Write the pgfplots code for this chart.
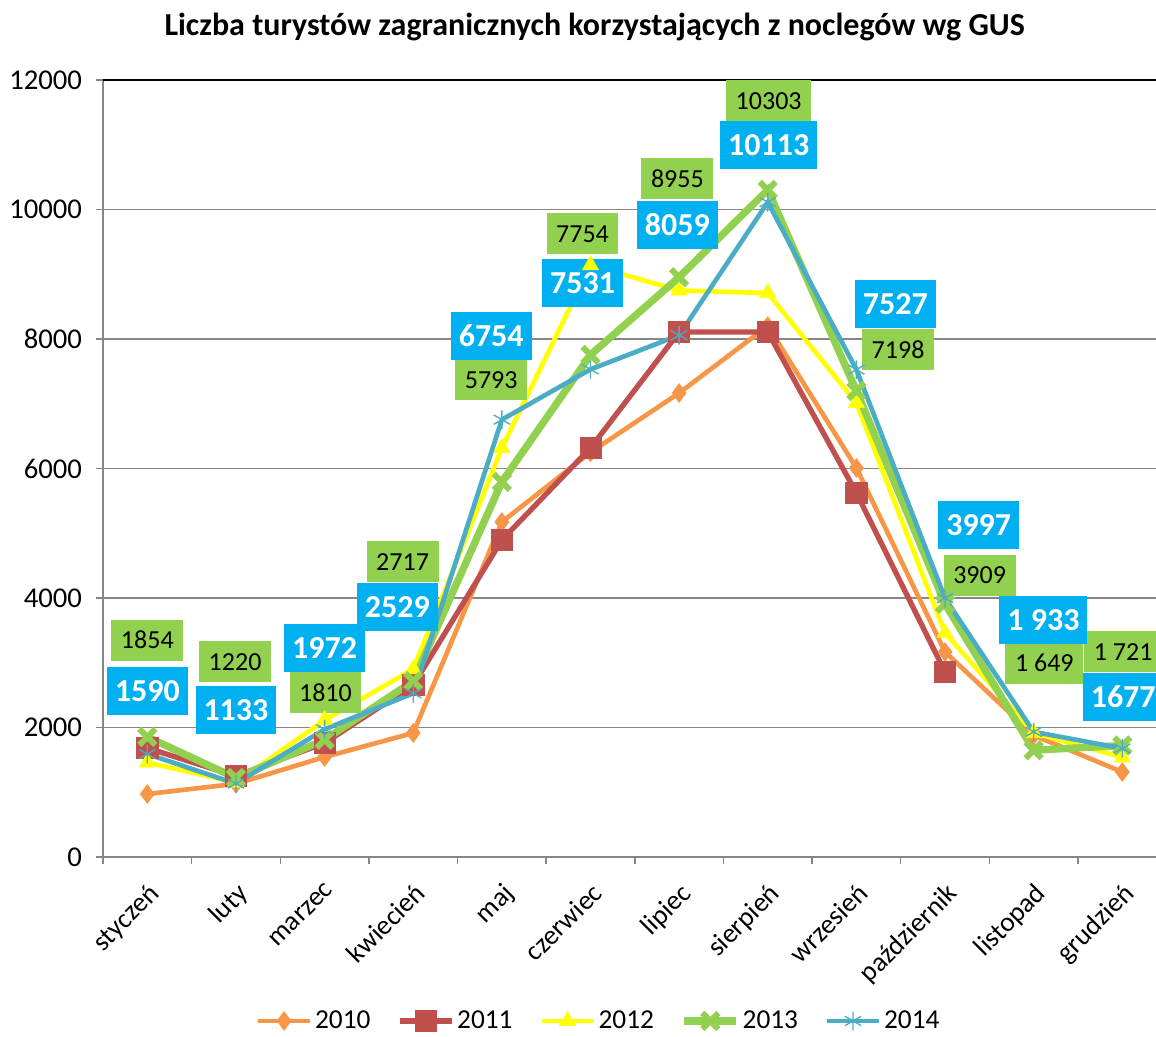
\documentclass[border=0pt]{standalone}
\usepackage{fontspec}
\setmainfont{Carlito}
\usepackage{pgfplots}
\pgfplotsset{compat=1.18}
\definecolor{c2010}{HTML}{F79646}
\definecolor{c2011}{HTML}{C0504D}
\definecolor{c2012}{HTML}{FFFF00}
\definecolor{c2013}{HTML}{92D050}
\definecolor{c2014}{HTML}{4BACC6}
\definecolor{lblue}{HTML}{00B0F0}
\definecolor{lgreen}{HTML}{92D050}
\definecolor{gridgray}{HTML}{868686}
\tikzset{
 bl/.style={fill=lblue, text=white, font=\bfseries\fontsize{24}{28}\selectfont, inner xsep=6pt, inner ysep=0pt, minimum height=36pt, anchor=center},
 gr/.style={fill=lgreen, text=black, font=\fontsize{19.5}{23}\selectfont, inner xsep=7.2pt, inner ysep=0pt, minimum height=30.75pt, anchor=center},
}
\begin{document}
\begin{tikzpicture}
\begin{axis}[
 name=ax,
 scale only axis,
 width=789.75pt, height=582.75pt,
 xmin=-0.5, xmax=11.38,
 ymin=0, ymax=12000,
 clip=false,
 ytick={0,2000,...,12000},
 xtick={0,...,11},
 xticklabels={styczeń,luty,marzec,kwiecień,maj,czerwiec,lipiec,sierpień,wrzesień,październik,listopad,grudzień},
 minor xtick={-0.5,0.5,...,11.5},
 tick align=outside,
 major tick length=5.25pt,
 minor tick length=5.25pt,
 major x tick style={draw=none},
 minor x tick style={gridgray, line width=1.1pt},
 ytick style={gridgray, line width=1.1pt},
 axis x line*=bottom, axis y line*=left,
 axis line style={gridgray, line width=1.1pt},
 ymajorgrids, grid style={gridgray, line width=1.1pt},
 scaled y ticks=false,
 /pgf/number format/1000 sep={},
 /pgf/number format/assume math mode=true,
 ticklabel style={font=\fontsize{21.5}{25}\selectfont},
 yticklabel style={xshift=-7pt},
 xticklabel shift=13pt,
 xticklabel style={font=\fontsize{20.5}{24}\selectfont, rotate=45, anchor=north east, inner sep=0pt},
 title={Liczba turystów zagranicznych korzystających z noclegów wg GUS},
 title style={font=\bfseries\fontsize{24}{28}\selectfont, at={(0.467,1.058)}, anchor=center},
 legend style={at={(0.471,-0.211)}, anchor=center, draw=none, fill=none, legend columns=5, font=\fontsize{20.5}{24}\selectfont, /tikz/every even column/.append style={column sep=18pt}},
 legend image code/.code={\draw[mark repeat=2, mark phase=2, #1] plot coordinates {(0pt,0pt) (19.5pt,0pt) (39pt,0pt)};},
]
\addplot[c2010, line width=3.5pt, mark=diamond*, mark size=7pt, mark options={solid, fill=c2010, line width=0.5pt}]
 coordinates {(0,973) (1,1130) (2,1544) (3,1915) (4,5174) (5,6250) (6,7166) (7,8200) (8,6008) (9,3166) (10,1880) (11,1313)};
\addlegendentry{2010}
\addplot[c2011, line width=4pt, mark=square*, mark size=8pt, mark options={solid, fill=c2011, line width=0.5pt, rounded corners=2pt}]
 coordinates {(0,1683) (1,1250) (2,1760) (3,2656) (4,4896) (5,6317) (6,8108) (7,8108) (8,5622) (9,2857)};
\addlegendentry{2011}
\addplot[c2012, line width=3.5pt, mark=triangle*, mark size=7pt, mark options={solid, fill=c2012, line width=0.5pt}]
 coordinates {(0,1460) (1,1150) (2,2116) (3,2900) (4,6317) (5,9140) (6,8750) (7,8710) (8,7012) (9,3460) (10,1915) (11,1540)};
\addlegendentry{2012}
\addplot[c2013, line width=5.5pt, mark=x, mark size=8.5pt, mark options={solid, line width=4.5pt}]
 coordinates {(0,1854) (1,1220) (2,1810) (3,2717) (4,5793) (5,7754) (6,8955) (7,10303) (8,7198) (9,3909) (10,1649) (11,1721)};
\addlegendentry{2013}
\addplot[c2014, line width=3.5pt, mark=asterisk, mark size=7pt, mark options={solid, line width=1pt}]
 coordinates {(0,1590) (1,1133) (2,1972) (3,2529) (4,6754) (5,7531) (6,8059) (7,10113) (8,7527) (9,3997) (10,1933) (11,1677)};
\addlegendentry{2014}
\draw[black, line width=1.5pt] (rel axis cs:0,1) -- (rel axis cs:1,1);
% green labels (2013)
\node[gr] at (axis cs:0,3351) {1854};
\node[gr] at (axis cs:0.99,3012) {1220};
\node[gr] at (axis cs:2.01,2533) {1810};
\node[gr] at (axis cs:2.88,4556) {2717};
\node[gr] at (axis cs:3.88,7367) {5793};
\node[gr] at (axis cs:4.91,9622) {7754};
\node[gr] at (axis cs:5.98,10471) {8955};
\node[gr] at (axis cs:7.01,11676) {10303};
\node[gr] at (axis cs:8.47,7830) {7198};
\node[gr] at (axis cs:9.39,4355) {3909};
\node[gr] at (axis cs:10.12,2996) {1 649};
\node[gr] at (axis cs:11.01,3166) {1 721};
% blue labels (2014)
\node[bl] at (axis cs:0,2564) {1590};
\node[bl] at (axis cs:1.0,2270) {1133};
\node[bl] at (axis cs:2.0,3228) {1972};
\node[bl] at (axis cs:2.82,3861) {2529};
\node[bl] at (axis cs:3.88,8046) {6754};
\node[bl] at (axis cs:4.91,8865) {7531};
\node[bl] at (axis cs:5.98,9761) {8059};
\node[bl] at (axis cs:7.01,10996) {10113};
\node[bl] at (axis cs:8.44,8541) {7527};
\node[bl] at (axis cs:9.38,5127) {3997};
\node[bl] at (axis cs:10.11,3660) {1 933};
\node[bl] at (axis cs:11.01,2471) {1677};
\end{axis}
\pgfresetboundingbox
\path[use as bounding box] ([xshift=-77.25pt, yshift=-135pt]ax.south west) rectangle ([yshift=60pt]ax.north east);
\end{tikzpicture}
\end{document}
